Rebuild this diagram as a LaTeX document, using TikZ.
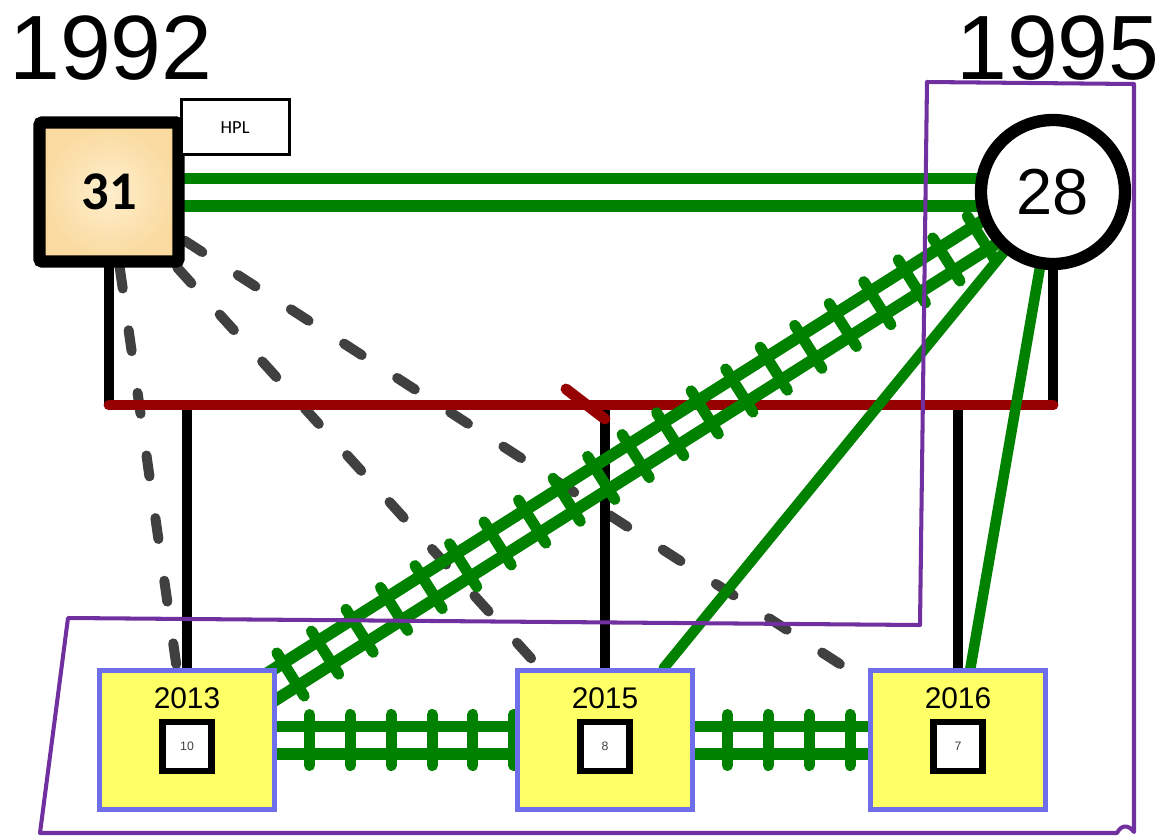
\documentclass[tikz,border=0pt]{standalone}
\usepackage{fontspec}
\setmainfont{Liberation Sans}
\newfontfamily\carlito{Carlito}
\usepackage{color}
\definecolor{mygreen}{RGB}{0,130,0}
\definecolor{mypurple}{RGB}{112,48,160}
\definecolor{mydarkred}{RGB}{150,0,0}
\definecolor{mydash}{RGB}{64,64,64}
\definecolor{myblue}{RGB}{110,110,235}
\definecolor{myyellow}{RGB}{255,255,102}
\definecolor{mypeach}{RGB}{250,218,158}
\definecolor{mypeachlight}{RGB}{254,238,205}
\usepackage{tikz}
\usetikzlibrary{calc,positioning,backgrounds,decorations.markings}
\tikzstyle{era}=[inner sep=0pt,font=\fontsize{52}{52}\selectfont]
\tikzstyle{topic}=[draw,line width=7pt,rounded corners=1.5pt,inner color=mypeachlight,outer color=mypeach,minimum size=2.78cm,inner sep=0pt,font=\carlito\bfseries\fontsize{31}{31}\selectfont]
\tikzstyle{labelbox}=[draw,fill=white,line width=1.7pt,minimum width=2.16cm,minimum height=1.1cm,inner sep=0pt,font=\carlito\fontsize{10.5}{10.5}\selectfont]
\tikzstyle{hub}=[draw,circle,fill=white,line width=7pt,minimum size=2.88cm,inner sep=0pt,font=\fontsize{37}{37}\selectfont]
\tikzstyle{yearbox}=[draw=myblue,fill=myyellow,line width=2.6pt,minimum width=3.5cm,minimum height=2.78cm,inner sep=0pt]
\tikzstyle{yeartext}=[inner sep=0pt,font=\fontsize{17}{17}\selectfont]
\tikzstyle{tally}=[draw,fill=white,line width=3.8pt,minimum size=0.98cm,inner sep=0pt,text=black!75,font=\fontsize{7}{7}\selectfont]
\tikzstyle{cousin}=[line width=5.7pt,mydash,line cap=round,dash pattern=on 12pt off 24pt]
\tikzstyle{wire}=[line width=5.7pt,black,line cap=round]
\tikzstyle{bus}=[line width=6.2pt,mydarkred,line cap=round]
\tikzstyle{link}=[line width=6pt,mygreen,line cap=round]
\tikzstyle{rail}=[line width=6.8pt,mygreen]
\tikzstyle{ties}=[postaction={decorate,decoration={markings,
  mark=between positions 0 and 1 step 23.25pt with
  {\draw[line width=6.3pt,mygreen,line cap=round] (0pt,-14.5pt) -- (0pt,14.5pt);}}}]
\tikzstyle{grp}=[line width=2.3pt,mypurple,line join=round]
% two parallel green lines between node centres
\newcommand{\rails}[2]{%
  \draw[rail] ($(#1)!7.7pt!90:(#2)$) -- ($(#2)!7.7pt!-90:(#1)$);
  \draw[rail] ($(#1)!7.7pt!-90:(#2)$) -- ($(#2)!7.7pt!90:(#1)$);}
\newcommand{\track}[2]{\rails{#1}{#2}\path[ties] (#1.center) -- (#2.center);}
\begin{document}
\begin{tikzpicture}[x=0.02cm,y=-0.02cm]
\useasboundingbox (0,0) rectangle (1164,836);
\node [era] (e92) at (111,48) {1992};
\node [era] (e95) at (1058,48) {1995};
\node [topic] (sq) at (109,192) {31};
\node [labelbox,anchor=north west] (hpl) at ([shift={(-5,-18)}]sq.north east) {HPL};
\node [hub] (c28) at (1053,192) {28};
\node [yearbox] (y13) at (187,740) {};
\node [yearbox] [right=4.77cm of y13] (y15) {};
\node [yearbox] [right=3.47cm of y15] (y16) {};
\node [yeartext] (t13) at ([yshift=0.84cm]y13.center) {2013};
\node [yeartext] (t15) at ([yshift=0.84cm]y15.center) {2015};
\node [yeartext] (t16) at ([yshift=0.84cm]y16.center) {2016};
\node [tally] (n13) at ([yshift=-0.13cm]y13.center) {10};
\node [tally] (n15) at ([yshift=-0.13cm]y15.center) {8};
\node [tally] (n16) at ([yshift=-0.13cm]y16.center) {7};
\coordinate (bus) at (0,405);
\coordinate (tee) at (y15 |- bus);
\begin{pgfonlayer}{background}
\draw [cousin] (sq) -- (y13);
\draw [cousin] (sq) -- (y15);
\draw [cousin] (sq) -- (y16);
\draw [wire] (sq) -- (sq |- bus);
\draw [wire] (c28) -- (c28 |- bus);
\draw [wire] (y13) -- (y13 |- bus);
\draw [wire] (y15) -- (tee);
\draw [wire] (y16) -- (y16 |- bus);
\draw [bus] (sq |- bus) -- (c28 |- bus);
\draw [bus] ([shift={(-39,-16)}]tee) -- ([shift={(0,14)}]tee);
\draw [link] (y15) -- (c28);
\draw [link] (y16) -- (c28);
\rails{sq}{c28}
\track{y13}{c28}
\track{y13}{y15}
\track{y15}{y16}
\end{pgfonlayer}
% 1995 group outline
\draw [grp] (68,618) -- (920,625) -- (927,82) -- (1134,84) -- (1134,832)
  .. controls (1128,824) and (1121,825) .. (1117,833) -- (40,833) -- cycle;
\end{tikzpicture}
\end{document}
